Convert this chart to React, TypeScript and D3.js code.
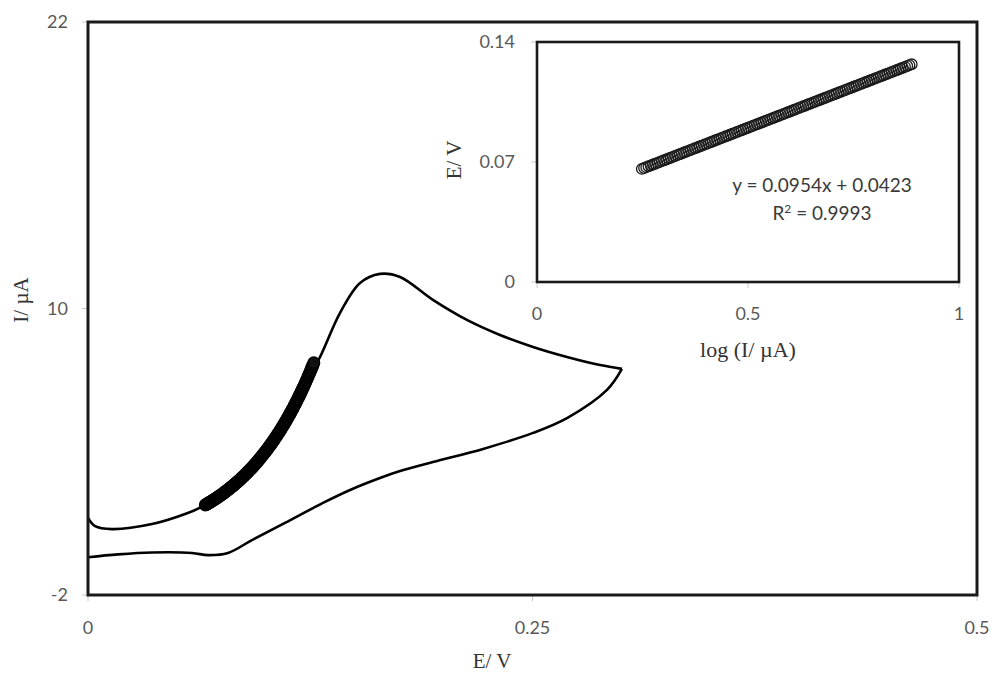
import React from "react";
import * as d3 from "d3";

// ---- Main CV data (E / V, I / µA) ----
const forwardE = [0, 0.004, 0.0135, 0.036, 0.055, 0.0647, 0.08, 0.09, 0.1, 0.11, 0.12, 0.1305, 0.1417, 0.153, 0.1642, 0.1755, 0.194, 0.2131, 0.2317, 0.2503, 0.2694, 0.288, 0.3003];
const forwardI = [1.23, 0.88, 0.76, 0.97, 1.4, 1.72, 2.48, 3.16, 4.03, 5.12, 6.53, 7.97, 9.81, 11.07, 11.45, 11.32, 10.36, 9.52, 8.89, 8.39, 7.97, 7.63, 7.47];
const reverseE = [0.3003, 0.2919, 0.2694, 0.2503, 0.2222, 0.194, 0.1755, 0.1642, 0.1474, 0.1333, 0.1108, 0.0922, 0.0787, 0.0675, 0.0585, 0.036, 0.0169, 0];
const reverseI = [7.47, 6.59, 5.41, 4.79, 4.12, 3.57, 3.19, 2.9, 2.4, 1.9, 1.02, 0.3, -0.24, -0.33, -0.24, -0.22, -0.3, -0.42];

// ---- Tafel region points (E / V, log(I/µA)) ----
const tafelE = [0.066, 0.0665, 0.067, 0.0675, 0.068, 0.0685, 0.069, 0.0695, 0.07, 0.0705, 0.071, 0.0715, 0.072, 0.0725, 0.073, 0.0735, 0.074, 0.0745, 0.075, 0.0755, 0.076, 0.0765, 0.077, 0.0775, 0.078, 0.0785, 0.079, 0.0795, 0.08, 0.0805, 0.081, 0.0815, 0.082, 0.0825, 0.083, 0.0835, 0.084, 0.0845, 0.085, 0.0855, 0.086, 0.0865, 0.087, 0.0875, 0.088, 0.0885, 0.089, 0.0895, 0.09, 0.0905, 0.091, 0.0915, 0.092, 0.0925, 0.093, 0.0935, 0.094, 0.0945, 0.095, 0.0955, 0.096, 0.0965, 0.097, 0.0975, 0.098, 0.0985, 0.099, 0.0995, 0.1, 0.1005, 0.101, 0.1015, 0.102, 0.1025, 0.103, 0.1035, 0.104, 0.1045, 0.105, 0.1055, 0.106, 0.1065, 0.107, 0.1075, 0.108, 0.1085, 0.109, 0.1095, 0.11, 0.1105, 0.111, 0.1115, 0.112, 0.1125, 0.113, 0.1135, 0.114, 0.1145, 0.115, 0.1155, 0.116, 0.1165, 0.117, 0.1175, 0.118, 0.1185, 0.119, 0.1195, 0.12, 0.1205, 0.121, 0.1215, 0.122, 0.1225, 0.123, 0.1235, 0.124, 0.1245, 0.125, 0.1255, 0.126, 0.1265, 0.127];
const tafelLogI = [0.2484, 0.2537, 0.2589, 0.2642, 0.2694, 0.2746, 0.2799, 0.2851, 0.2904, 0.2956, 0.3008, 0.3061, 0.3113, 0.3166, 0.3218, 0.327, 0.3323, 0.3375, 0.3428, 0.348, 0.3532, 0.3585, 0.3637, 0.369, 0.3742, 0.3795, 0.3847, 0.3899, 0.3952, 0.4004, 0.4057, 0.4109, 0.4161, 0.4214, 0.4266, 0.4319, 0.4371, 0.4423, 0.4476, 0.4528, 0.4581, 0.4633, 0.4686, 0.4738, 0.479, 0.4843, 0.4895, 0.4948, 0.5, 0.5052, 0.5105, 0.5157, 0.521, 0.5262, 0.5314, 0.5367, 0.5419, 0.5472, 0.5524, 0.5577, 0.5629, 0.5681, 0.5734, 0.5786, 0.5839, 0.5891, 0.5943, 0.5996, 0.6048, 0.6101, 0.6153, 0.6205, 0.6258, 0.631, 0.6363, 0.6415, 0.6468, 0.652, 0.6572, 0.6625, 0.6677, 0.673, 0.6782, 0.6834, 0.6887, 0.6939, 0.6992, 0.7044, 0.7096, 0.7149, 0.7201, 0.7254, 0.7306, 0.7358, 0.7411, 0.7463, 0.7516, 0.7568, 0.7621, 0.7673, 0.7725, 0.7778, 0.783, 0.7883, 0.7935, 0.7987, 0.804, 0.8092, 0.8145, 0.8197, 0.8249, 0.8302, 0.8354, 0.8407, 0.8459, 0.8512, 0.8564, 0.8616, 0.8669, 0.8721, 0.8774, 0.8826, 0.8879];

const mainXTicks = [0, 0.25, 0.5];
const mainYTicks = [-2, 10, 22];
const insetXTicks = [0, 0.5, 1];
const insetYTicks = [0, 0.07, 0.14];
const equationText = "y = 0.0954x + 0.0423";
const r2Text = "0.9993";

const sans = "Lato, 'Open Sans', 'DejaVu Sans', sans-serif";
const serif = "'Liberation Serif', 'DejaVu Serif', serif";
const tickColor = "#595959";

export default function App() {
  const W = 1000, H = 678;
  const x = d3.scaleLinear().domain([0, 0.5]).range([88, 977]);
  const y = d3.scaleLinear().domain([-2, 22]).range([595, 22]);
  const ix = d3.scaleLinear().domain([0, 1]).range([537, 959]);
  const iy = d3.scaleLinear().domain([0, 0.14]).range([282, 42]);

  const line = d3
    .line<[number, number]>()
    .x((d) => x(d[0]))
    .y((d) => y(d[1]))
    .curve(d3.curveCatmullRom.alpha(0.5));

  const fwd = forwardE.map((e, i) => [e, forwardI[i]] as [number, number]);
  const rev = reverseE.map((e, i) => [e, reverseI[i]] as [number, number]);

  const fmt = (v: number) => String(v);

  return (
    <svg
      width={W}
      height={H}
      style={{ position: "absolute", left: 0, top: 0, background: "#fff" }}
    >
      <rect x={0} y={0} width={W} height={H} fill="#fff" />

      {/* Main plot ticks */}
      {mainYTicks.map((t) => (
        <g key={"my" + t}>
          <line x1={x(0) - 6} x2={x(0)} y1={y(t)} y2={y(t)} stroke="#c8c8c8" strokeWidth={1} />
          <text x={68} y={y(t)} dy="0.36em" textAnchor="end" fontFamily={sans} fontSize={18} fill={tickColor}>
            {fmt(t)}
          </text>
        </g>
      ))}
      {mainXTicks.map((t) => (
        <g key={"mx" + t}>
          <line x1={x(t)} x2={x(t)} y1={y(-2)} y2={y(-2) + 6} stroke="#c8c8c8" strokeWidth={1} />
          <text x={x(t)} y={634} textAnchor="middle" fontFamily={sans} fontSize={18} fill={tickColor}>
            {fmt(t)}
          </text>
        </g>
      ))}

      {/* Main axis titles */}
      <text x={492} y={668} textAnchor="middle" fontFamily={serif} fontSize={21} fill="#333">
        E/ V
      </text>
      <text
        transform={`translate(28,300) rotate(-90)`}
        textAnchor="middle"
        fontFamily={serif}
        fontSize={21}
        fill="#333"
      >
        I/ µA
      </text>

      {/* CV curve */}
      <path d={line(fwd) || ""} fill="none" stroke="#000" strokeWidth={2.6} strokeLinejoin="round" />
      <path d={line(rev) || ""} fill="none" stroke="#000" strokeWidth={2.6} strokeLinejoin="round" />

      {/* Tafel points on CV */}
      {tafelE.map((e, i) => (
        <circle
          key={"mc" + i}
          cx={x(e)}
          cy={y(Math.pow(10, tafelLogI[i]))}
          r={5.8}
          fill="#111"
          stroke="#000"
          strokeWidth={1.5}
        />
      ))}

      {/* Main frame */}
      <rect x={x(0)} y={y(22)} width={x(0.5) - x(0)} height={y(-2) - y(22)} fill="none" stroke="#1a1a1a" strokeWidth={3} />

      {/* Inset */}
      <rect x={ix(0)} y={iy(0.14)} width={ix(1) - ix(0)} height={iy(0) - iy(0.14)} fill="#fff" />
      {insetYTicks.map((t) => (
        <g key={"iy" + t}>
          <line x1={ix(0) - 6} x2={ix(0)} y1={iy(t)} y2={iy(t)} stroke="#c8c8c8" strokeWidth={1} />
          <text x={515} y={iy(t)} dy="0.36em" textAnchor="end" fontFamily={sans} fontSize={18} fill={tickColor}>
            {fmt(t)}
          </text>
        </g>
      ))}
      {insetXTicks.map((t) => (
        <g key={"ix" + t}>
          <line x1={ix(t)} x2={ix(t)} y1={iy(0)} y2={iy(0) + 6} stroke="#c8c8c8" strokeWidth={1} />
          <text x={ix(t)} y={320} textAnchor="middle" fontFamily={sans} fontSize={18} fill={tickColor}>
            {fmt(t)}
          </text>
        </g>
      ))}
      <text x={748} y={357} textAnchor="middle" fontFamily={serif} fontSize={22} fill="#333">
        log (I/ µA)
      </text>
      <text
        transform={`translate(461,160) rotate(-90)`}
        textAnchor="middle"
        fontFamily={serif}
        fontSize={21}
        fill="#333"
      >
        E/ V
      </text>

      {tafelLogI.map((l, i) => (
        <circle
          key={"ic" + i}
          cx={ix(l)}
          cy={iy(tafelE[i])}
          r={5.3}
          fill="none"
          stroke="#1a1a1a"
          strokeWidth={1.3}
        />
      ))}

      <text x={822} y={192} textAnchor="middle" fontFamily={sans} fontSize={19} fill="#3a3a3a">
        {equationText}
      </text>
      <text x={822} y={220} textAnchor="middle" fontFamily={sans} fontSize={19} fill="#3a3a3a">
        R<tspan fontSize={12} dy={-7}>2</tspan>
        <tspan dy={7}>{" = " + r2Text}</tspan>
      </text>

      <rect x={ix(0)} y={iy(0.14)} width={ix(1) - ix(0)} height={iy(0) - iy(0.14)} fill="none" stroke="#1a1a1a" strokeWidth={2.6} />
    </svg>
  );
}
